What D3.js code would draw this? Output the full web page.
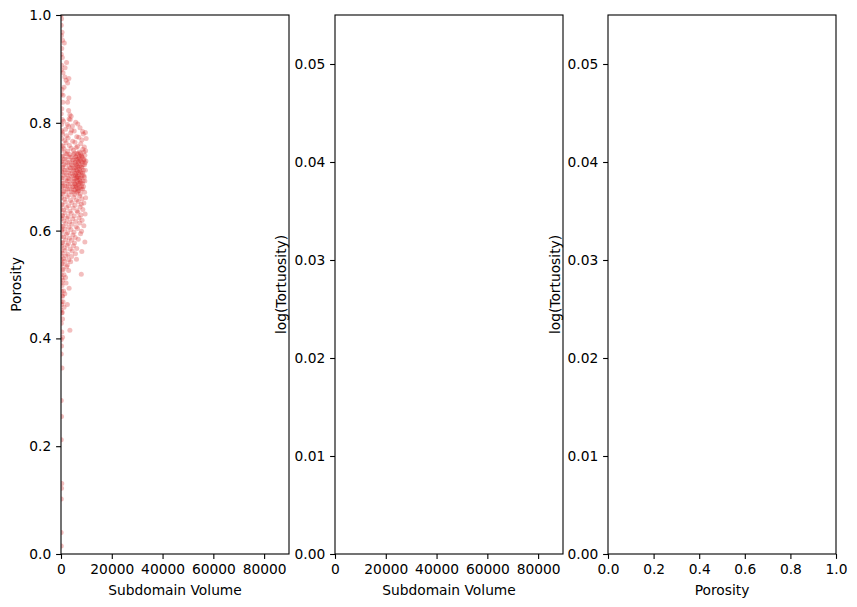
<!DOCTYPE html>
<html>
<head>
<meta charset="utf-8">
<script src="https://cdn.jsdelivr.net/npm/d3@7"></script>
<style>
  html, body { margin: 0; padding: 0; background: #fff; }
  svg { display: block; }
  text { font-family: "DejaVu Sans", sans-serif; fill: #000; }
</style>
</head>
<body>
<svg id="chart" width="857" height="607"></svg>
<script>
// ---- Data ----
// [Subdomain Volume, Porosity] pairs, points hugging the x = 0 edge
const edgePoints = [
  [50,1.0],[200,0.993],[100,0.981],[400,0.968],[150,0.962],[600,0.953],[300,0.938],[100,0.927],[500,0.921],[250,0.907],
  [100,0.898],[800,0.893],[400,0.862],[100,0.853],[700,0.838],[300,0.826],[100,0.817],[500,0.806],[200,0.797],[100,0.786],
  [600,0.779],[300,0.771],[100,0.758],[400,0.749],[200,0.737],[100,0.728],[500,0.716],[300,0.709],[100,0.697],[200,0.688],
  [400,0.682],[100,0.669],[300,0.661],[200,0.648],[100,0.639],[500,0.627],[200,0.622],[100,0.608],[300,0.601],[100,0.589],
  [400,0.577],[200,0.571],[100,0.562],[300,0.553],[100,0.546],[200,0.537],[500,0.528],[100,0.519],[300,0.512],[100,0.503],
  [200,0.488],[400,0.479],[100,0.468],[300,0.463],[100,0.452],[200,0.447],[600,0.436],[100,0.428],[300,0.412],[100,0.398],
  [200,0.386],[100,0.371],[400,0.345],[100,0.285],[200,0.255],[100,0.212],[300,0.131],[200,0.122],[100,0.102],[50,0.04],
  [100,0.015]
];
// sparse points above the main cloud
const upperPoints = [
  [1300,0.948],[2200,0.912],[1600,0.902],[1500,0.885],[2000,0.879],[3100,0.882],[2600,0.874],[1200,0.866],[800,0.851],
  [3100,0.846],[2600,0.838],[3000,0.823],[3500,0.815],[3200,0.807],[4000,0.812]
];
// main cloud
const clusterPoints = [
  [1000,0.803],[2500,0.797],[3600,0.806],[4500,0.794],[5800,0.801],[6600,0.798],
  [1800,0.788],[3000,0.793],[4200,0.786],[7500,0.791],[8500,0.784],
  [500,0.783],[2200,0.776],[3800,0.781],[5200,0.785],[6200,0.774],[8800,0.779],[9600,0.782],
  [1500,0.767],[2800,0.772],[4600,0.766],[7000,0.773],[8200,0.768],[9900,0.771],
  [800,0.757],[2000,0.763],[3300,0.758],[5500,0.764],[6500,0.756],[7800,0.761],[9200,0.755],
  [1200,0.752],[2600,0.747],[4000,0.753],[4900,0.749],[6000,0.754],[7200,0.746],[8600,0.751],[9700,0.748],
  [1700,0.743],[3500,0.741],[5300,0.744],[6800,0.742],[8000,0.739],[9000,0.746],
  [700,0.738],[2300,0.742],[3900,0.736],[5000,0.741],[5900,0.737],[6300,0.743],[7300,0.738],[7700,0.744],[8400,0.736],[9400,0.740],
  [1400,0.733],[3100,0.737],[4400,0.731],[5600,0.736],[6600,0.732],[7100,0.734],[8100,0.738],[8900,0.731],
  [400,0.728],[2000,0.732],[3400,0.727],[4800,0.731],[5400,0.726],[6200,0.733],[6900,0.728],[7500,0.730],[8300,0.727],[9100,0.732],[9800,0.729],
  [1100,0.723],[2700,0.726],[4100,0.722],[5700,0.727],[6400,0.721],[7000,0.724],[7900,0.728],[8700,0.722],[9500,0.726],
  [600,0.718],[1900,0.722],[3300,0.717],[4600,0.721],[5200,0.716],[6000,0.723],[6700,0.718],[7400,0.720],[8200,0.717],[9300,0.722],
  [2400,0.713],[3700,0.716],[5000,0.712],[5800,0.717],[6500,0.711],[7200,0.714],[8000,0.718],[8800,0.712],
  [900,0.708],[1600,0.712],[3000,0.707],[4300,0.711],[5500,0.706],[6100,0.713],[6900,0.708],[7600,0.710],[8500,0.707],[9600,0.712],
  [2200,0.703],[3800,0.706],[4900,0.702],[5900,0.707],[6400,0.701],[7100,0.704],[7800,0.708],[9000,0.702],
  [500,0.698],[1300,0.702],[2800,0.697],[4200,0.701],[5300,0.696],[5700,0.703],[6200,0.698],[6800,0.700],[7400,0.697],[8300,0.702],[9200,0.699],
  [1800,0.693],[3300,0.696],[4500,0.692],[6000,0.697],[6600,0.691],[7300,0.694],[8000,0.698],[8700,0.692],
  [800,0.688],[2500,0.692],[3600,0.687],[5100,0.691],[5600,0.686],[6300,0.693],[7000,0.688],[7700,0.690],[8400,0.687],[9400,0.692],
  [1500,0.683],[2900,0.686],[4800,0.682],[5400,0.687],[6100,0.681],[6700,0.684],[7500,0.688],[8100,0.682],
  [400,0.678],[2100,0.682],[3400,0.677],[4400,0.681],[5200,0.676],[5900,0.683],[6500,0.678],[7200,0.680],[7900,0.677],[8900,0.682],
  [1100,0.673],[2600,0.677],[4000,0.672],[5600,0.676],[6300,0.671],[7000,0.674],[8500,0.677],
  [700,0.668],[1900,0.672],[3200,0.666],[4700,0.671],[5400,0.667],[6600,0.673],[7600,0.668],[9300,0.671],
  [1300,0.658],[2400,0.663],[3700,0.656],[5000,0.662],[6100,0.657],[7300,0.664],[8200,0.659],[9700,0.661],
  [500,0.648],[1700,0.653],[3000,0.646],[4300,0.652],[5500,0.647],[6800,0.654],[8000,0.649],[9000,0.651],
  [1000,0.638],[2200,0.643],[3500,0.636],[4800,0.642],[6300,0.637],[7500,0.644],[8600,0.639],
  [600,0.628],[1600,0.633],[2800,0.626],[4000,0.632],[5200,0.627],[6600,0.634],[7800,0.629],[9500,0.631],
  [1200,0.618],[2300,0.623],[3400,0.616],[4600,0.622],[5800,0.617],[7100,0.624],[8300,0.619],
  [800,0.608],[1900,0.613],[3100,0.606],[4300,0.612],[6000,0.607],[7400,0.614],[9000,0.609],
  [400,0.598],[1500,0.603],[2600,0.596],[3900,0.602],[5100,0.597],[6500,0.604],[8100,0.599],
  [1100,0.588],[2100,0.593],[3300,0.586],[4700,0.592],[5600,0.587],[7700,0.594],
  [700,0.578],[1800,0.583],[2900,0.576],[4100,0.582],[5300,0.577],[6800,0.584],[9400,0.579],
  [1300,0.568],[2400,0.573],[3600,0.566],[4900,0.572],[6200,0.567],
  [500,0.558],[1600,0.563],[2700,0.556],[4400,0.562],[5700,0.557],[8200,0.561],
  [1000,0.548],[2000,0.553],[3100,0.546],[4200,0.552],[6100,0.547],
  [600,0.538],[1400,0.543],[2500,0.536],[3800,0.542],
  [900,0.528],[2200,0.533],[3000,0.526],
  [1200,0.518],[8000,0.519],
  [700,0.508],[1800,0.513],
  [400,0.498],[2000,0.503],
  [1000,0.488],[3200,0.493],
  [600,0.478],[1500,0.483],
  [800,0.468],
  [1200,0.458],[2500,0.463],
  [500,0.448],
  [3500,0.415],[600,0.402]
];

// axis settings
const volumeDomain = [0, 89800];
const porosityDomain = [0, 1];
const tortDomain = [0, 0.055];
const volumeTicks = [0, 20000, 40000, 60000, 80000];
const porosityTicks = [0, 0.2, 0.4, 0.6, 0.8, 1.0];
const tortTicks = [0, 0.01, 0.02, 0.03, 0.04, 0.05];

// ---- Drawing ----
const svg = d3.select("#chart");
const plotTop = 15, plotBottom = 554;
const panels = [
  {left: 61, right: 289, xDom: volumeDomain, yDom: porosityDomain, xTicks: volumeTicks, yTicks: porosityTicks,
   xFmt: d3.format("d"), yFmt: d3.format(".1f"), xLabel: "Subdomain Volume", yLabel: "Porosity", yLabelX: 21, points: true},
  {left: 335, right: 563, xDom: volumeDomain, yDom: tortDomain, xTicks: volumeTicks, yTicks: tortTicks,
   xFmt: d3.format("d"), yFmt: d3.format(".2f"), xLabel: "Subdomain Volume", yLabel: "log(Tortuosity)", yLabelX: 286},
  {left: 608, right: 836, xDom: porosityDomain, yDom: tortDomain, xTicks: porosityTicks, yTicks: tortTicks,
   xFmt: d3.format(".1f"), yFmt: d3.format(".2f"), xLabel: "Porosity", yLabel: "log(Tortuosity)", yLabelX: 560}
];

const fontSize = "13.8px";
const allPoints = edgePoints.concat(upperPoints, clusterPoints);

panels.forEach((p, i) => {
  const x = d3.scaleLinear().domain(p.xDom).range([p.left, p.right]);
  const y = d3.scaleLinear().domain(p.yDom).range([plotBottom, plotTop]);
  const g = svg.append("g");

  if (p.points) {
    const clipId = "clip" + i;
    svg.append("defs").append("clipPath").attr("id", clipId)
      .append("rect").attr("x", p.left).attr("y", plotTop)
      .attr("width", p.right - p.left).attr("height", plotBottom - plotTop);
    g.append("g").attr("clip-path", `url(#${clipId})`)
      .selectAll("circle").data(allPoints).join("circle")
      .attr("cx", d => x(d[0])).attr("cy", d => y(d[1]))
      .attr("r", 2.5)
      .attr("fill", "#d62728")
      .attr("fill-opacity", 0.3);
  }

  const xAxis = d3.axisBottom(x).tickValues(p.xTicks).tickFormat(p.xFmt).tickSizeOuter(0).tickSize(4.9).tickPadding(4.9);
  const yAxis = d3.axisLeft(y).tickValues(p.yTicks).tickFormat(p.yFmt).tickSizeOuter(0).tickSize(4.9).tickPadding(4.9);

  const gx = g.append("g").attr("transform", `translate(0,${plotBottom})`).call(xAxis);
  const gy = g.append("g").attr("transform", `translate(${p.left},0)`).call(yAxis);
  [gx, gy].forEach(a => {
    a.select(".domain").remove();
    a.selectAll(".tick line").attr("stroke", "#000").attr("stroke-width", 1.1);
    a.selectAll(".tick text").attr("font-size", fontSize).attr("font-family", "DejaVu Sans").attr("fill", "#000");
  });

  g.append("rect").attr("x", p.left).attr("y", plotTop)
    .attr("width", p.right - p.left).attr("height", plotBottom - plotTop)
    .attr("fill", "none").attr("stroke", "#000").attr("stroke-width", 1.1);

  g.append("text").attr("x", (p.left + p.right) / 2).attr("y", 595)
    .attr("text-anchor", "middle").attr("font-size", fontSize).text(p.xLabel);

  g.append("text").attr("transform", `translate(${p.yLabelX},${(plotTop + plotBottom) / 2}) rotate(-90)`)
    .attr("text-anchor", "middle").attr("font-size", fontSize).text(p.yLabel);
});
</script>
</body>
</html>
